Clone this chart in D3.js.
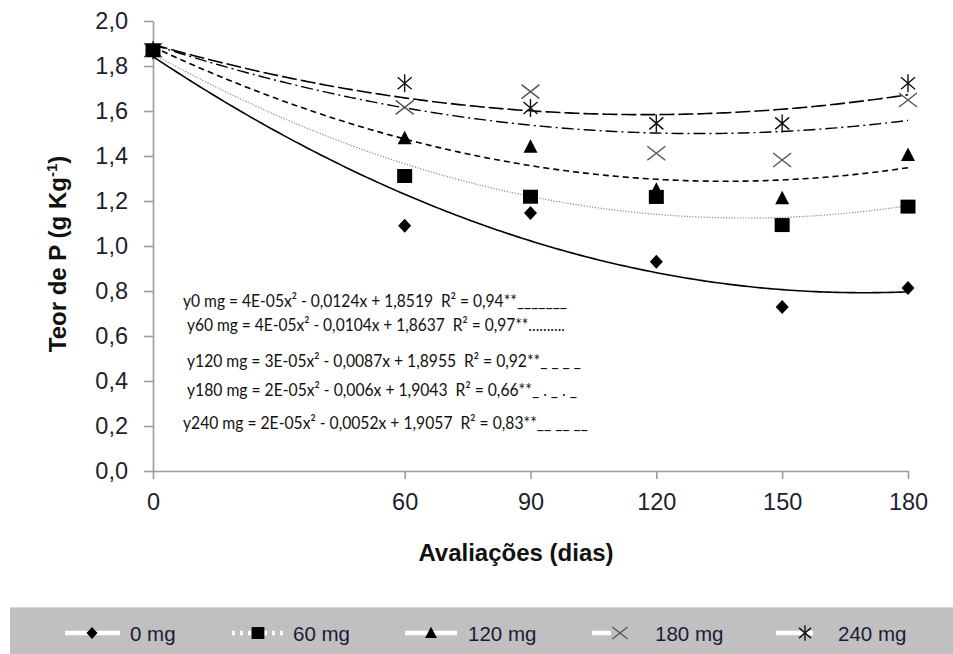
<!DOCTYPE html>
<html>
<head>
<meta charset="utf-8">
<script src="https://cdn.jsdelivr.net/npm/d3@7"></script>
<style>
  body { margin: 0; background: #fff; }
  svg { display: block; }
</style>
</head>
<body>
<svg id="chart" width="953" height="654"></svg>
<script>
// Evaluation days and phosphorus content (g Kg-1) per P dose
const days = [0, 60, 90, 120, 150, 180];
const xTickValues = [0, 60, 90, 120, 150, 180];
const yTickValues = [0, 0.2, 0.4, 0.6, 0.8, 1.0, 1.2, 1.4, 1.6, 1.8, 2.0];

const seriesNames = ["0 mg", "60 mg", "120 mg", "180 mg", "240 mg"];
const dose0 = [1.87, 1.09, 1.147, 0.93, 0.729, 0.813];
const dose60 = [1.87, 1.311, 1.219, 1.218, 1.093, 1.175];
const dose120 = [1.87, 1.479, 1.441, 1.25, 1.212, 1.404];
const dose180 = [1.87, 1.616, 1.686, 1.412, 1.382, 1.649];
const dose240 = [1.87, 1.723, 1.613, 1.545, 1.545, 1.723];

const equationLabels = [
  "y0 mg = 4E-05x² - 0,0124x + 1,8519 \u00a0R² = 0,94**_______",
  "y60 mg = 4E-05x² - 0,0104x + 1,8637 \u00a0R² = 0,97**..........",
  "y120 mg = 3E-05x² - 0,0087x + 1,8955 \u00a0R² = 0,92**_ _ _ _",
  "y180 mg = 2E-05x² - 0,006x + 1,9043 \u00a0R² = 0,66**_ . _ . _",
  "y240 mg = 2E-05x² - 0,0052x + 1,9057 \u00a0R² = 0,83**__ __ __"
];

const seriesValues = [dose0, dose60, dose120, dose180, dose240];
const markerTypes = ["diamond", "square", "triangle", "cross", "asterisk"];
const lineDash = [null, "1.2,1.6", "6,4", "12,4,2,4", "15,4"];
const lineColor = ["#000", "#8a8a8a", "#000", "#000", "#000"];
const lineWidth = [1.6, 1.2, 1.6, 1.4, 1.6];

// Least-squares quadratic fit y = a x^2 + b x + c
function quadFit(xs, ys) {
  let n = xs.length, s1 = 0, s2 = 0, s3 = 0, s4 = 0, t0 = 0, t1 = 0, t2 = 0;
  xs.forEach((x, i) => {
    const y = ys[i];
    s1 += x; s2 += x * x; s3 += x * x * x; s4 += x * x * x * x;
    t0 += y; t1 += x * y; t2 += x * x * y;
  });
  const M = [[s4, s3, s2], [s3, s2, s1], [s2, s1, n]];
  const v = [t2, t1, t0];
  const det = m => m[0][0] * (m[1][1] * m[2][2] - m[1][2] * m[2][1])
                 - m[0][1] * (m[1][0] * m[2][2] - m[1][2] * m[2][0])
                 + m[0][2] * (m[1][0] * m[2][1] - m[1][1] * m[2][0]);
  const D = det(M);
  const col = k => M.map((r, i) => r.map((c, j) => (j === k ? v[i] : c)));
  return [det(col(0)) / D, det(col(1)) / D, det(col(2)) / D];
}

const svg = d3.select("#chart");
const x = d3.scaleLinear().domain([0, 180]).range([153, 908]);
const y = d3.scaleLinear().domain([0, 2]).range([471, 21]);

const axisColor = "#9c9c9c";
const tickTextColor = "#1e1e2e";

// Y axis
const yAxis = svg.append("g")
  .attr("transform", `translate(${x(0)},0)`)
  .call(d3.axisLeft(y).tickValues(yTickValues).tickSize(9).tickSizeOuter(0).tickPadding(16)
    .tickFormat(d => d3.format(".1f")(d).replace(".", ",")));
// X axis
const xAxis = svg.append("g")
  .attr("transform", `translate(0,${y(0)})`)
  .call(d3.axisBottom(x).tickValues(xTickValues).tickSize(8).tickSizeOuter(0).tickPadding(14));

[yAxis, xAxis].forEach(g => {
  g.select(".domain").attr("stroke", axisColor).attr("stroke-width", 1.6);
  g.selectAll(".tick line").attr("stroke", axisColor).attr("stroke-width", 1.6);
  g.selectAll(".tick text").attr("fill", tickTextColor)
    .attr("font-family", "'Liberation Sans', Arial, sans-serif").attr("font-size", 23.5);
});

// Axis titles
svg.append("text")
  .attr("transform", "translate(66,254) rotate(-90)")
  .attr("text-anchor", "middle")
  .attr("font-family", "'Liberation Sans', Arial, sans-serif")
  .attr("font-weight", "bold").attr("font-size", 24).attr("fill", "#111")
  .call(t => {
    t.append("tspan").text("Teor de P (g Kg");
    t.append("tspan").attr("font-size", 15).attr("dy", -9).text("-1");
    t.append("tspan").attr("dy", 9).text(")");
  });

svg.append("text")
  .attr("x", 516).attr("y", 561)
  .attr("text-anchor", "middle")
  .attr("font-family", "'Liberation Sans', Arial, sans-serif")
  .attr("font-weight", "bold").attr("font-size", 24).attr("fill", "#111")
  .text("Avaliações (dias)");

// Marker shapes
function markerPath(type, k = 1) {
  const p = d3.path();
  if (type === "diamond") {
    p.moveTo(0, -7 * k); p.lineTo(6.5 * k, 0); p.lineTo(0, 7 * k); p.lineTo(-6.5 * k, 0); p.closePath();
  } else if (type === "square") {
    p.rect(-7.5 * k, -7 * k, 15 * k, 14 * k);
  } else if (type === "triangle") {
    p.moveTo(0, -7.5 * k); p.lineTo(7 * k, 6 * k); p.lineTo(-7 * k, 6 * k); p.closePath();
  } else if (type === "cross") {
    p.moveTo(-9 * k, -7 * k); p.lineTo(9 * k, 7 * k); p.moveTo(-9 * k, 7 * k); p.lineTo(9 * k, -7 * k);
  } else {
    p.moveTo(-7 * k, -6 * k); p.lineTo(7 * k, 6 * k); p.moveTo(-7 * k, 6 * k); p.lineTo(7 * k, -6 * k);
    p.moveTo(0, -9 * k); p.lineTo(0, 9 * k);
  }
  return p.toString();
}
function styleMarker(sel, type) {
  if (type === "cross") {
    sel.attr("fill", "none").attr("stroke", "#555").attr("stroke-width", 1.4);
  } else if (type === "asterisk") {
    sel.attr("fill", "none").attr("stroke", "#111").attr("stroke-width", 1.4);
  } else {
    sel.attr("fill", "#000");
  }
}

// Fitted trend lines
const curveX = d3.range(0, 180.01, 1);
const trend = svg.append("g");
seriesValues.forEach((vals, i) => {
  const [a, b, c] = quadFit(days, vals);
  const line = d3.line().x(d => x(d)).y(d => y(a * d * d + b * d + c));
  trend.append("path")
    .attr("d", line(curveX))
    .attr("fill", "none")
    .attr("stroke", lineColor[i])
    .attr("stroke-width", lineWidth[i])
    .attr("stroke-dasharray", lineDash[i]);
});

// Data markers (highest dose first so the 0 mg points sit on top)
const markers = svg.append("g");
for (let i = seriesValues.length - 1; i >= 0; i--) {
  markers.selectAll(null)
    .data(days.map((d, k) => [d, seriesValues[i][k]]))
    .join("path")
    .attr("transform", d => `translate(${x(d[0])},${y(d[1])})`)
    .attr("d", markerPath(markerTypes[i]))
    .call(styleMarker, markerTypes[i]);
}

// Regression equations
const eqX = [183, 187, 187, 187, 183];
const eqY = [307, 331, 367, 396, 429];
const eqLen = [384, 378, 394, 390, 405];
equationLabels.forEach((t, i) => {
  svg.append("text")
    .attr("x", eqX[i]).attr("y", eqY[i])
    .attr("font-family", "Lato, 'Open Sans', sans-serif")
    .attr("font-size", 17.5).attr("fill", "#111")
    .attr("textLength", eqLen[i]).attr("lengthAdjust", "spacingAndGlyphs")
    .text(t);
});

// Legend
const legend = svg.append("g");
legend.append("rect").attr("x", 10).attr("y", 607).attr("width", 943).attr("height", 47).attr("fill", "#c0c0c0");
legend.append("line").attr("x1", 10).attr("x2", 953).attr("y1", 607.5).attr("y2", 607.5).attr("stroke", "#dadada");
const legMarkX = [92, 258, 431, 620, 805];
const legTextX = [130, 293, 468, 655, 838];
const legLine = [[65, 120, null], [232, 284, "3,5"], [405, 457, null], [592, 648, "19,40"], [776, 840, "37,40"]];
const legY = 633;
seriesNames.forEach((name, i) => {
  legend.append("line")
    .attr("x1", legLine[i][0]).attr("x2", legLine[i][1])
    .attr("y1", legY).attr("y2", legY)
    .attr("stroke", "#fff").attr("stroke-width", 4.5)
    .attr("stroke-dasharray", legLine[i][2]);
  legend.append("path")
    .attr("transform", `translate(${legMarkX[i]},${legY})`)
    .attr("d", markerPath(markerTypes[i], 0.85))
    .call(styleMarker, markerTypes[i]);
  legend.append("text")
    .attr("x", legTextX[i]).attr("y", legY + 7.5)
    .attr("font-family", "'Liberation Sans', Arial, sans-serif")
    .attr("font-size", 20.5).attr("fill", "#1e1a38")
    .text(name);
});
</script>
</body>
</html>
